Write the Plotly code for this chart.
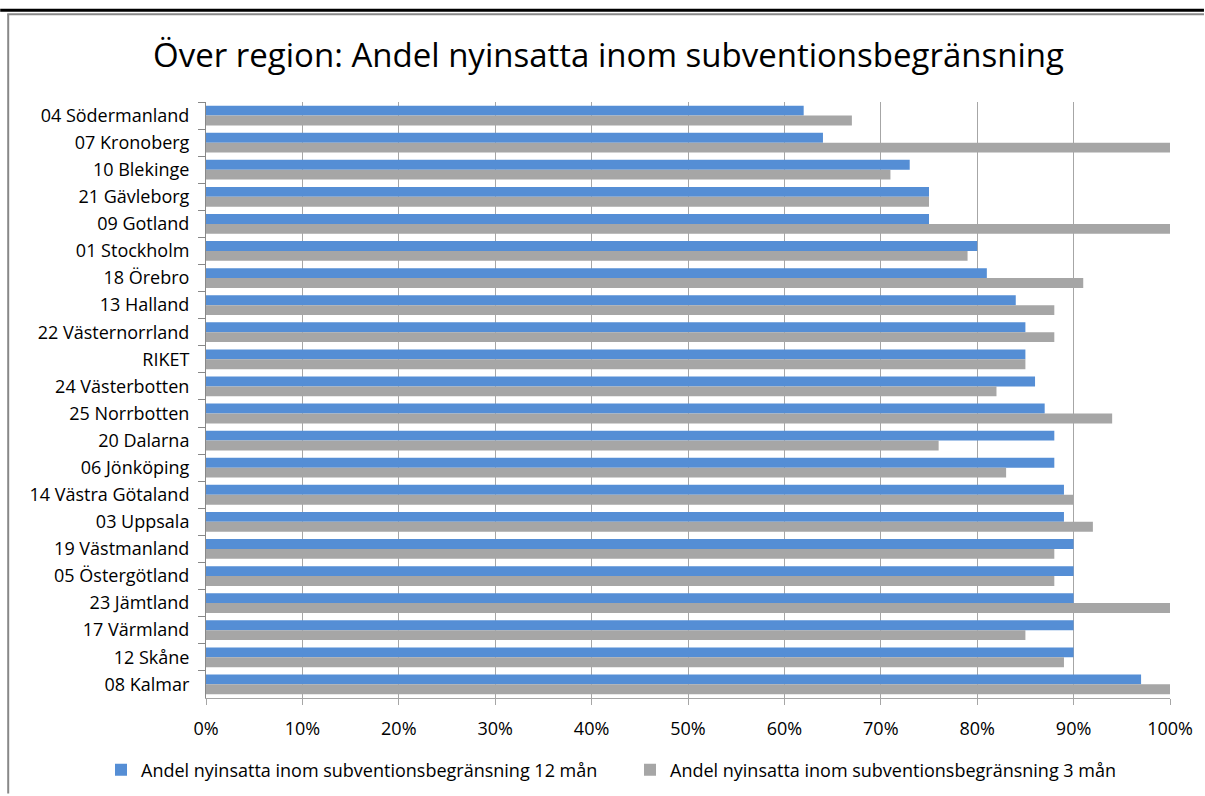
import plotly.graph_objects as go

regions = [
    "04 Södermanland", "07 Kronoberg", "10 Blekinge", "21 Gävleborg", "09 Gotland",
    "01 Stockholm", "18 Örebro", "13 Halland", "22 Västernorrland", "RIKET",
    "24 Västerbotten", "25 Norrbotten", "20 Dalarna", "06 Jönköping",
    "14 Västra Götaland", "03 Uppsala", "19 Västmanland", "05 Östergötland",
    "23 Jämtland", "17 Värmland", "12 Skåne", "08 Kalmar",
]
andel_12_man = [0.62, 0.64, 0.73, 0.75, 0.75, 0.80, 0.81, 0.84, 0.85, 0.85, 0.86,
                0.87, 0.88, 0.88, 0.89, 0.89, 0.90, 0.90, 0.90, 0.90, 0.90, 0.97]
andel_3_man = [0.67, 1.00, 0.71, 0.75, 1.00, 0.79, 0.91, 0.88, 0.88, 0.85, 0.82,
               0.94, 0.76, 0.83, 0.90, 0.92, 0.88, 0.88, 1.00, 0.85, 0.89, 1.00]

FONT = "Open Sans"

fig = go.Figure()
fig.add_trace(go.Bar(y=regions, x=andel_12_man, orientation="h",
                     name="Andel nyinsatta inom subventionsbegränsning 12 mån",
                     marker=dict(color="#558ED5", line=dict(width=0)), legend="legend"))
fig.add_trace(go.Bar(y=regions, x=andel_3_man, orientation="h",
                     name="Andel nyinsatta inom subventionsbegränsning 3 mån",
                     marker=dict(color="#A6A6A6", line=dict(width=0)), legend="legend2"))

# frame lines of the embedded chart (paper coords relative to plot area)
L, R, T, B = 206, 1171, 102, 700
def px(x):
    return (x - L) / (R - L)
def py(y):
    return (B - y) / (B - T)

shapes = [
    dict(type="line", xref="paper", yref="paper", x0=px(0), x1=px(1205), y0=py(10), y1=py(10),
         line=dict(color="black", width=3)),
    dict(type="line", xref="paper", yref="paper", x0=px(7), x1=px(1205), y0=py(14), y1=py(14),
         line=dict(color="#888888", width=2)),
    dict(type="line", xref="paper", yref="paper", x0=px(8), x1=px(8), y0=py(14), y1=py(796),
         line=dict(color="#888888", width=2)),
]

leg = dict(orientation="h", xref="container", yref="container",
           y=1 - 770 / 796, xanchor="left", yanchor="middle",
           font=dict(family=FONT, size=18), bgcolor="rgba(0,0,0,0)")

fig.update_layout(
    width=1205, height=796,
    margin=dict(l=L, r=1205 - R, t=T, b=796 - B),
    paper_bgcolor="white", plot_bgcolor="white",
    font=dict(family=FONT, size=17, color="black"),
    title=dict(text="Över region: Andel nyinsatta inom subventionsbegränsning",
               x=0.505, xref="container", y=1 - 55 / 796, yref="container",
               xanchor="center", yanchor="middle",
               font=dict(family=FONT, size=33, color="black")),
    barmode="group", bargap=0.27, bargroupgap=0,
    showlegend=True,
    legend=dict(leg, x=101 / 1205),
    legend2=dict(leg, x=630 / 1205),
    shapes=shapes,
)
fig.update_xaxes(range=[0, 1], dtick=0.1, tickformat=".0%", showgrid=True,
                 gridcolor="#A6A6A6", gridwidth=1, zeroline=False,
                 showline=True, linecolor="#A6A6A6", linewidth=1,
                 ticks="outside", ticklen=6, tickcolor="#A6A6A6",
                 tickfont=dict(family=FONT, size=18), ticklabelstandoff=8, fixedrange=True)
fig.update_yaxes(type="category", autorange="reversed", showgrid=False,
                 showline=True, linecolor="#888888", linewidth=1,
                 ticks="outside", ticklen=7, tickcolor="#888888", tickson="boundaries",
                 tickfont=dict(family=FONT, size=18), ticklabelstandoff=12)

fig.write_html("out.html", config={"displayModeBar": False},
               post_script="document.body.style.margin='0';")
